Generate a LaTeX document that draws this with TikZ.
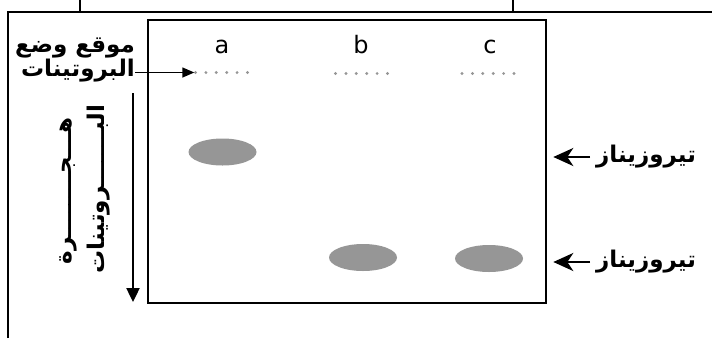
\documentclass[tikz,border=0pt]{standalone}
\usepackage{fontspec}
\setmainfont{DejaVu Sans}
\newfontfamily\arabicfont[Script=Arabic]{DejaVu Sans}
\TeXXeTstate=1
\usetikzlibrary{arrows.meta,shapes.geometric}
\definecolor{spotgray}{RGB}{150,150,150}
\definecolor{dotgray}{RGB}{150,150,150}
\tikzset{
  tableline/.style={line width=1.4pt},
  gelbox/.style={draw, line width=2.6pt, minimum width=398pt, minimum height=283pt, inner sep=0pt},
  spot/.style={ellipse, fill=spotgray, minimum width=68pt, minimum height=27pt, inner sep=0pt},
  lane/.style={font=\fontsize{24}{24}\selectfont, inner sep=0pt, anchor=base},
  arlabel/.style={font=\arabicfont\bfseries\fontsize{23}{23}\selectfont, inner sep=0pt},
  dotrow/.style={minimum width=54pt, minimum height=4pt, inner sep=0pt},
  ptr/.style={line width=1.4pt, -{Triangle[length=12pt,width=10pt]}},
  bigptr/.style={line width=2.6pt, -{Stealth[length=20pt,width=18pt,inset=6pt]}},
}
\begin{document}
\begin{tikzpicture}[x=1pt,y=-1pt]
\useasboundingbox (0,0) rectangle (712,338);
% table lines
\draw[tableline] (80,0) -- (80,12);
\draw[tableline] (513,0) -- (513,12);
\draw[tableline] (8,338) -- (8,12) -- (712,12);
% gel
\node[gelbox] (gel) at (347,161.5) {};
% lanes
\node[lane] (la) at (222,53) {a};
\node[lane] (lb) at (361,53) {b};
\node[lane] (lc) at (490,53) {c};
% dots
\foreach \n/\x/\y in {A/221.5/72.5, B/361.5/73.5, C/488/73.5}{
  \node[dotrow] (dots\n) at (\x,\y) {};
  \foreach \i in {0,...,5}{
    \fill[dotgray] (\x-26+\i*10.4,\y) circle (1.6pt);
  }
}
% spots
\node[spot] (sa) at (222.5,152) {};
\node[spot] (sb) at (363,257.5) {};
\node[spot] (sc) at (489,258.5) {};
% left label
\node[arlabel, anchor=east, align=right] (pos) at (135,60) {\beginR موقع وضع\endR\\[-1pt]\beginR البروتينات\endR};
\draw[ptr] (pos.east |- dotsA.west) -- (dotsA.west);
% migration arrow
\coordinate (mtop) at (133,93);
\coordinate (mbot) at (133,302);
\draw[line width=2.4pt, -{Triangle[length=14pt,width=13pt]}] (mtop) -- (mbot);
\node[arlabel, rotate=90] (mig1) at (68,191) {\beginR هـــجــــــــرة\endR};
\node[arlabel, rotate=90] (mig2) at (99,189) {\beginR البـــــــروتينات\endR};
% right labels
\node[arlabel, anchor=west] (t1) at (596,157) {\beginR تيروزيناز\endR};
\node[arlabel, anchor=west] (t2) at (596,262) {\beginR تيروزيناز\endR};
\draw[bigptr] ([xshift=-6pt]t1.west) -- ([xshift=6pt]gel.east |- t1.west);
\draw[bigptr] ([xshift=-6pt]t2.west) -- ([xshift=6pt]gel.east |- t2.west);
\end{tikzpicture}
\end{document}
